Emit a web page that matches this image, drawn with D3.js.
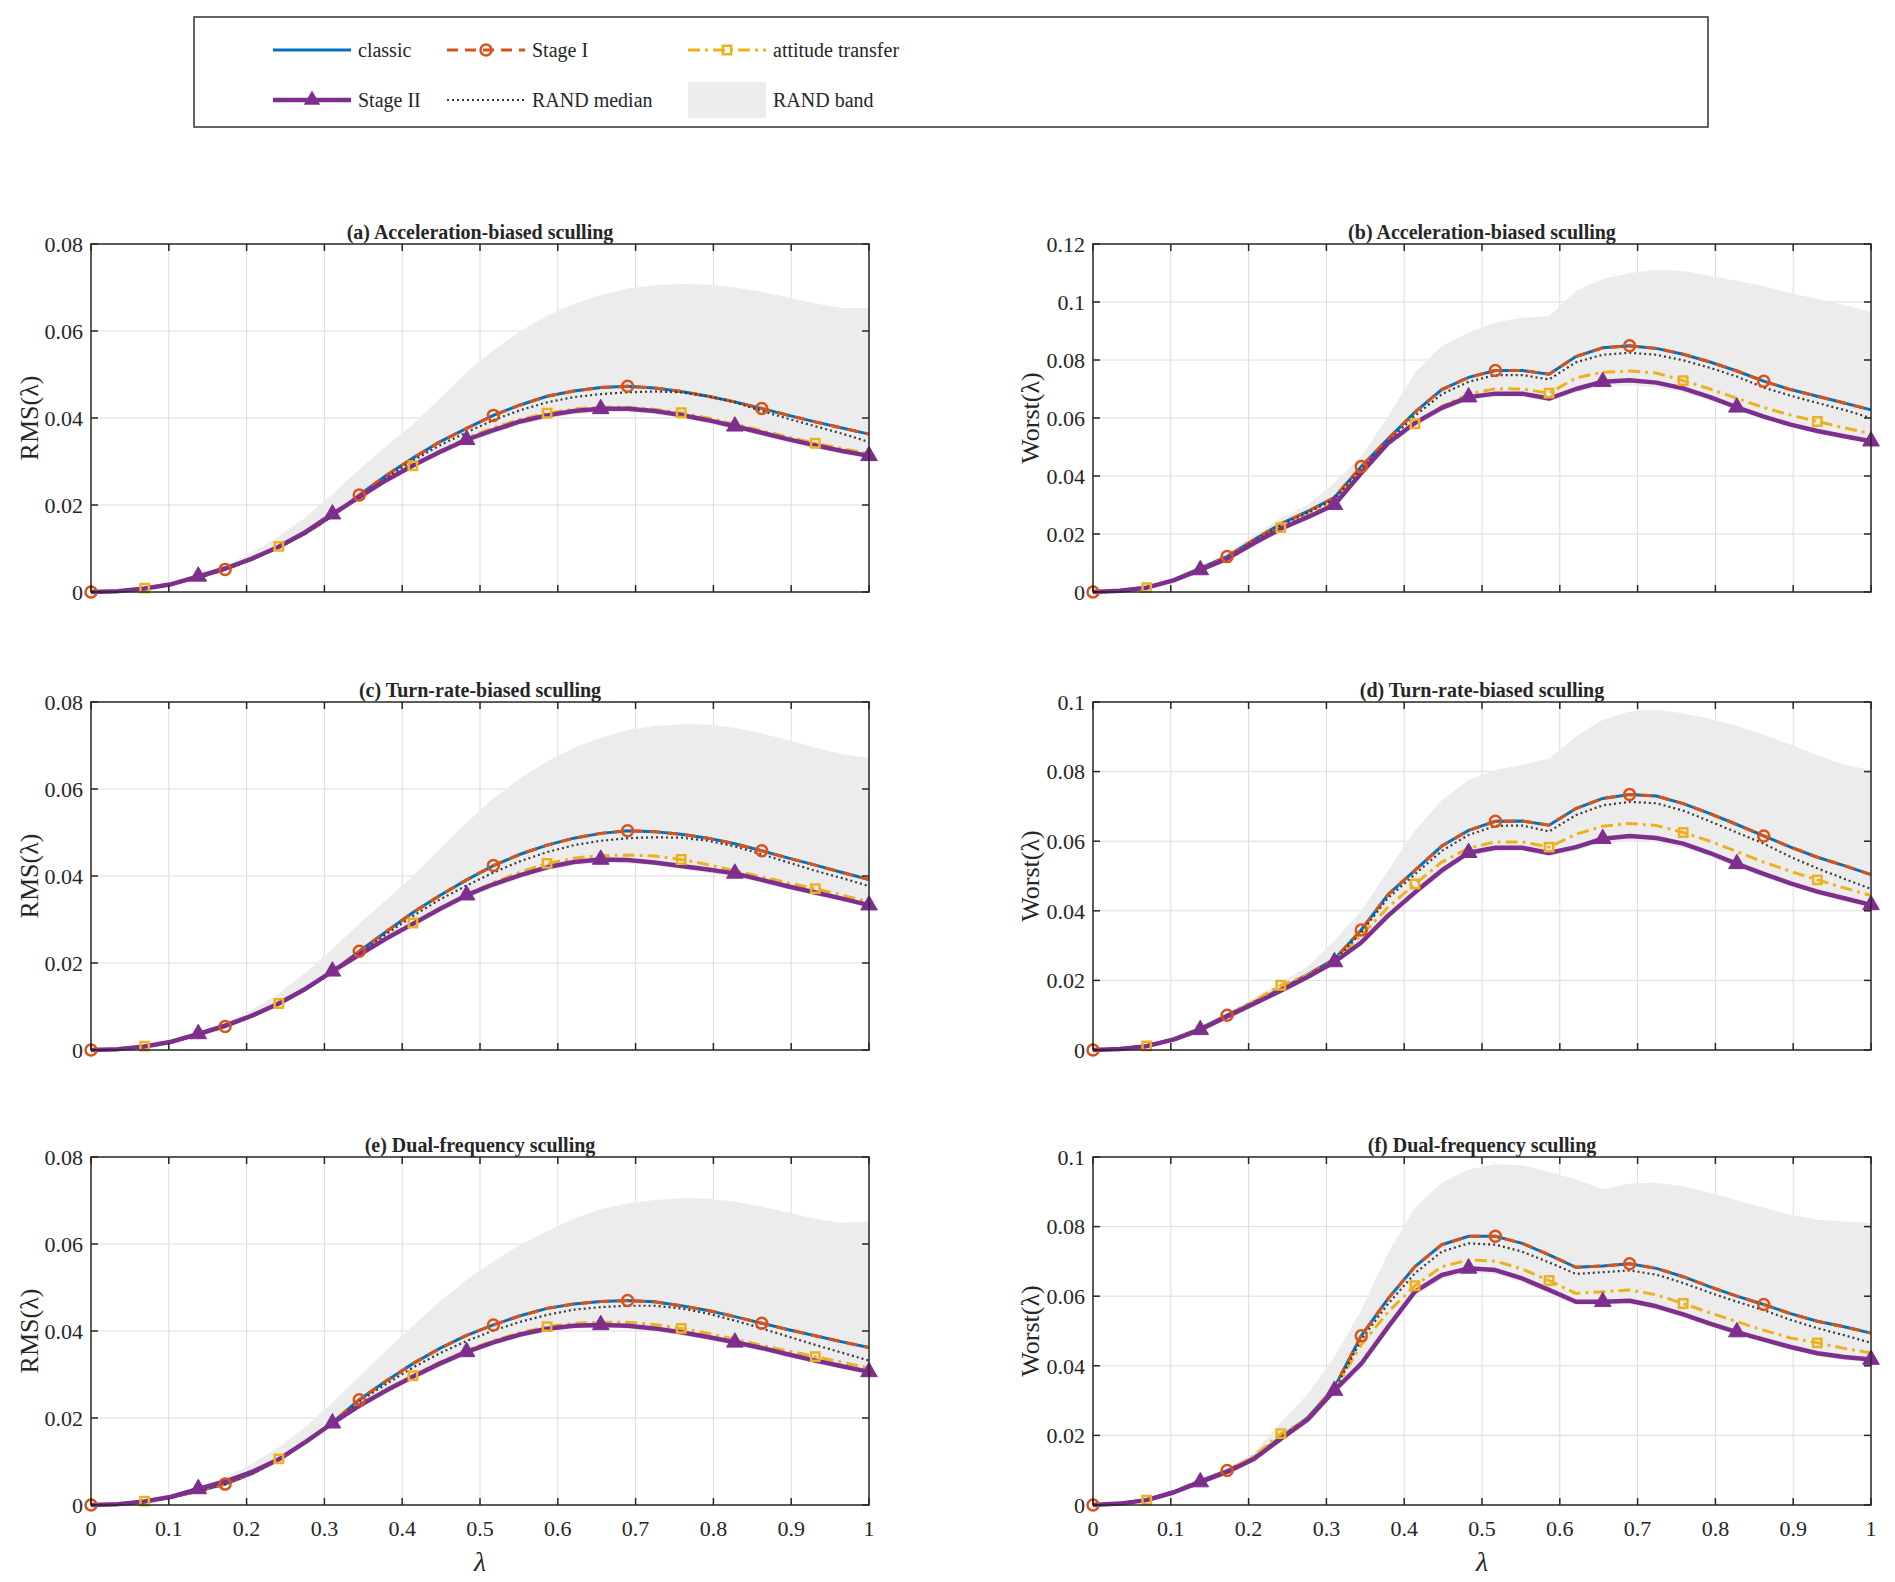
<!DOCTYPE html>
<html>
<head>
<meta charset="utf-8">
<script src="https://cdn.jsdelivr.net/npm/d3@7"></script>
<style>
  body { margin: 0; background: #fff; }
  svg text { font-family: "Liberation Serif", "Times New Roman", serif; fill: #262626; }
</style>
</head>
<body>
<svg id="chart" width="1895" height="1582"></svg>
<script>
// lambda grid (30 samples, 0..1)
const lambda = [0, 0.0345, 0.0690, 0.1034, 0.1379, 0.1724, 0.2069, 0.2414, 0.2759, 0.3103,
  0.3448, 0.3793, 0.4138, 0.4483, 0.4828, 0.5172, 0.5517, 0.5862, 0.6207, 0.6552,
  0.6897, 0.7241, 0.7586, 0.7931, 0.8276, 0.8621, 0.8966, 0.9310, 0.9655, 1];

const xTicks = [0, 0.1, 0.2, 0.3, 0.4, 0.5, 0.6, 0.7, 0.8, 0.9, 1];
const rmsTicks = [0, 0.02, 0.04, 0.06, 0.08];
const worstTicksB = [0, 0.02, 0.04, 0.06, 0.08, 0.1, 0.12];
const worstTicks = [0, 0.02, 0.04, 0.06, 0.08, 0.1];

const legendNames = ['classic', 'Stage I', 'attitude transfer', 'Stage II', 'RAND median', 'RAND band'];

// marker positions (indices into lambda)
const stage1Marks = [0, 5, 10, 15, 20, 25];
const attitudeMarks = [2, 7, 12, 17, 22, 27];
const stage2Marks = [4, 9, 14, 19, 24, 29];

// (a) acceleration-biased, RMS
const aClassic = [0,0.0002,0.0008,0.0018,0.0033,0.0052,0.0075,0.0103,0.0135,0.0175,0.0223,0.0268,0.0308,0.0345,0.0376,0.0406,0.0430,0.0450,0.0462,0.0470,0.0473,0.0469,0.0461,0.0450,0.0437,0.0422,0.0406,0.0391,0.0377,0.0363];
const aStage1 = [0,0.0002,0.0008,0.0018,0.0033,0.0052,0.0075,0.0103,0.0135,0.0175,0.0223,0.0268,0.0308,0.0345,0.0376,0.0406,0.0430,0.0450,0.0462,0.0470,0.0473,0.0469,0.0461,0.0450,0.0437,0.0422,0.0406,0.0391,0.0377,0.0363];
const aAttitude = [0,0.0002,0.0009,0.0019,0.0035,0.0053,0.0076,0.0105,0.0138,0.0178,0.0218,0.0256,0.0290,0.0324,0.0354,0.0378,0.0397,0.0411,0.0421,0.0425,0.0425,0.0420,0.0412,0.0400,0.0386,0.0371,0.0356,0.0342,0.0330,0.0318];
const aStage2 = [0,0.0002,0.0008,0.0018,0.0036,0.0054,0.0077,0.0104,0.0138,0.0179,0.0218,0.0257,0.0291,0.0322,0.0350,0.0372,0.0392,0.0406,0.0416,0.0421,0.0421,0.0416,0.0407,0.0395,0.0381,0.0366,0.0351,0.0337,0.0324,0.0313];
const aMedian = [0,0.0002,0.0008,0.0018,0.0033,0.0052,0.0075,0.0103,0.0135,0.0174,0.0219,0.0262,0.0302,0.0337,0.0367,0.0395,0.0418,0.0436,0.0448,0.0455,0.0459,0.0461,0.0459,0.0450,0.0436,0.0416,0.0398,0.0381,0.0364,0.0345];
const aBandHi = [0,0.0002,0.0009,0.0020,0.0038,0.0060,0.0090,0.0128,0.0172,0.0225,0.0282,0.0335,0.0385,0.0445,0.0505,0.0555,0.0600,0.0635,0.0662,0.0683,0.0697,0.0705,0.0708,0.0707,0.0700,0.0690,0.0677,0.0663,0.0653,0.0653];
const aBandLo = [0,0.0002,0.0007,0.0017,0.0033,0.0051,0.0073,0.0100,0.0133,0.0172,0.0212,0.0250,0.0284,0.0315,0.0342,0.0364,0.0384,0.0398,0.0408,0.0413,0.0413,0.0409,0.0400,0.0388,0.0374,0.0359,0.0344,0.0330,0.0318,0.0308];

// (b) acceleration-biased, worst
const bClassic = [0,0.0004,0.0016,0.0042,0.0082,0.0122,0.0180,0.0235,0.0278,0.0326,0.0433,0.0528,0.0620,0.0698,0.0740,0.0764,0.0764,0.0751,0.0812,0.0842,0.0849,0.0840,0.0820,0.0793,0.0762,0.0727,0.0698,0.0675,0.0652,0.0628];
const bStage1 = [0,0.0004,0.0016,0.0042,0.0082,0.0122,0.0180,0.0235,0.0278,0.0326,0.0433,0.0528,0.0620,0.0698,0.0740,0.0764,0.0764,0.0751,0.0812,0.0842,0.0849,0.0840,0.0820,0.0793,0.0762,0.0727,0.0698,0.0675,0.0652,0.0628];
const bAttitude = [0,0.0004,0.0015,0.0040,0.0078,0.0118,0.0172,0.0222,0.0265,0.0310,0.0420,0.0508,0.0580,0.0640,0.0682,0.0701,0.0700,0.0686,0.0738,0.0758,0.0762,0.0755,0.0729,0.0700,0.0668,0.0636,0.0610,0.0588,0.0566,0.0546];
const bStage2 = [0,0.0004,0.0015,0.0040,0.0076,0.0115,0.0168,0.0218,0.0258,0.0301,0.0410,0.0514,0.0583,0.0635,0.0672,0.0684,0.0684,0.0667,0.0700,0.0725,0.0730,0.0722,0.0702,0.0672,0.0637,0.0605,0.0577,0.0555,0.0537,0.0520];
const bMedian = [0,0.0004,0.0016,0.0042,0.0080,0.0120,0.0176,0.0230,0.0273,0.0320,0.0425,0.0518,0.0608,0.0682,0.0725,0.0748,0.0748,0.0733,0.0792,0.0818,0.0825,0.0818,0.0799,0.0773,0.0743,0.0705,0.0677,0.0652,0.0628,0.0600];
const bBandHi = [0,0.0004,0.0017,0.0045,0.0088,0.0135,0.0195,0.0255,0.0300,0.0376,0.0468,0.0606,0.0756,0.0848,0.0895,0.0929,0.0946,0.0952,0.1039,0.1079,0.1100,0.1110,0.1107,0.1090,0.1073,0.1054,0.1031,0.1010,0.0990,0.0966];
const bBandLo = [0,0.0003,0.0014,0.0038,0.0074,0.0112,0.0164,0.0213,0.0252,0.0295,0.0400,0.0500,0.0570,0.0622,0.0660,0.0672,0.0673,0.0657,0.0690,0.0708,0.0712,0.0705,0.0688,0.0660,0.0628,0.0598,0.0570,0.0548,0.0530,0.0513];

// (c) turn-rate-biased, RMS
const cClassic = [0,0.0002,0.0008,0.0019,0.0035,0.0054,0.0078,0.0106,0.0140,0.0180,0.0227,0.0272,0.0316,0.0355,0.0391,0.0424,0.0450,0.0471,0.0487,0.0498,0.0504,0.0502,0.0496,0.0487,0.0474,0.0458,0.0441,0.0425,0.0408,0.0392];
const cStage1 = [0,0.0002,0.0008,0.0019,0.0035,0.0054,0.0078,0.0106,0.0140,0.0180,0.0227,0.0272,0.0316,0.0355,0.0391,0.0424,0.0450,0.0471,0.0487,0.0498,0.0504,0.0502,0.0496,0.0487,0.0474,0.0458,0.0441,0.0425,0.0408,0.0392];
const cAttitude = [0,0.0002,0.0009,0.0020,0.0036,0.0055,0.0078,0.0107,0.0141,0.0180,0.0220,0.0258,0.0292,0.0326,0.0357,0.0385,0.0409,0.0429,0.0441,0.0447,0.0448,0.0446,0.0438,0.0426,0.0412,0.0398,0.0384,0.0371,0.0356,0.0340];
const cStage2 = [0,0.0002,0.0008,0.0019,0.0037,0.0056,0.0079,0.0107,0.0141,0.0181,0.0219,0.0256,0.0290,0.0324,0.0356,0.0381,0.0402,0.0420,0.0432,0.0438,0.0437,0.0431,0.0423,0.0415,0.0406,0.0391,0.0376,0.0362,0.0348,0.0333];
const cMedian = [0,0.0002,0.0008,0.0019,0.0035,0.0054,0.0078,0.0106,0.0139,0.0178,0.0222,0.0266,0.0308,0.0346,0.0378,0.0408,0.0434,0.0455,0.0471,0.0481,0.0487,0.0489,0.0488,0.0481,0.0468,0.0450,0.0431,0.0412,0.0395,0.0377];
const cBandHi = [0,0.0002,0.0009,0.0021,0.0039,0.0062,0.0092,0.0130,0.0178,0.0232,0.0290,0.0345,0.0400,0.0462,0.0523,0.0578,0.0625,0.0663,0.0695,0.0718,0.0735,0.0745,0.0749,0.0748,0.0740,0.0728,0.0712,0.0695,0.0680,0.0672];
const cBandLo = [0,0.0002,0.0007,0.0018,0.0034,0.0053,0.0076,0.0103,0.0137,0.0176,0.0213,0.0249,0.0283,0.0316,0.0348,0.0373,0.0394,0.0412,0.0424,0.0430,0.0429,0.0424,0.0416,0.0407,0.0398,0.0384,0.0369,0.0355,0.0342,0.0328];

// (d) turn-rate-biased, worst
const dClassic = [0,0.0003,0.0012,0.0032,0.0062,0.0100,0.0138,0.0175,0.0217,0.0261,0.0345,0.0447,0.0516,0.0586,0.0631,0.0657,0.0658,0.0646,0.0694,0.0723,0.0734,0.0730,0.0708,0.0679,0.0648,0.0615,0.0583,0.0554,0.0530,0.0504];
const dStage1 = [0,0.0003,0.0012,0.0032,0.0062,0.0100,0.0138,0.0175,0.0217,0.0261,0.0345,0.0447,0.0516,0.0586,0.0631,0.0657,0.0658,0.0646,0.0694,0.0723,0.0734,0.0730,0.0708,0.0679,0.0648,0.0615,0.0583,0.0554,0.0530,0.0504];
const dAttitude = [0,0.0003,0.0012,0.0031,0.0060,0.0097,0.0140,0.0186,0.0215,0.0255,0.0330,0.0410,0.0477,0.0540,0.0580,0.0598,0.0598,0.0583,0.0620,0.0643,0.0651,0.0645,0.0625,0.0600,0.0570,0.0540,0.0513,0.0489,0.0466,0.0444];
const dStage2 = [0,0.0003,0.0011,0.0030,0.0058,0.0096,0.0133,0.0170,0.0210,0.0253,0.0309,0.0386,0.0453,0.0516,0.0567,0.0581,0.0581,0.0566,0.0583,0.0607,0.0615,0.0609,0.0593,0.0566,0.0535,0.0506,0.0479,0.0455,0.0436,0.0417];
const dMedian = [0,0.0003,0.0012,0.0031,0.0060,0.0098,0.0135,0.0172,0.0213,0.0256,0.0338,0.0437,0.0505,0.0572,0.0618,0.0644,0.0645,0.0628,0.0675,0.0703,0.0713,0.0709,0.0688,0.0657,0.0625,0.0593,0.0555,0.0522,0.0492,0.0463];
const dBandHi = [0,0.0003,0.0013,0.0035,0.0068,0.0108,0.0150,0.0195,0.0240,0.0314,0.0400,0.0516,0.0631,0.0718,0.0776,0.0805,0.0819,0.0838,0.0901,0.0949,0.0973,0.0978,0.0968,0.0951,0.0932,0.0906,0.0877,0.0848,0.0819,0.0805];
const dBandLo = [0,0.0002,0.0010,0.0028,0.0055,0.0092,0.0128,0.0165,0.0205,0.0247,0.0300,0.0376,0.0442,0.0505,0.0555,0.0570,0.0571,0.0556,0.0572,0.0596,0.0603,0.0597,0.0581,0.0555,0.0525,0.0497,0.0470,0.0447,0.0428,0.0409];

// (e) dual-frequency, RMS
const eClassic = [0,0.0002,0.0008,0.0018,0.0032,0.0048,0.0072,0.0104,0.0145,0.0190,0.0242,0.0285,0.0325,0.0360,0.0390,0.0414,0.0435,0.0452,0.0462,0.0468,0.0470,0.0467,0.0458,0.0447,0.0433,0.0418,0.0403,0.0389,0.0375,0.0362];
const eStage1 = [0,0.0002,0.0008,0.0018,0.0032,0.0048,0.0072,0.0104,0.0145,0.0190,0.0242,0.0285,0.0325,0.0360,0.0390,0.0414,0.0435,0.0452,0.0462,0.0468,0.0470,0.0467,0.0458,0.0447,0.0433,0.0418,0.0403,0.0389,0.0375,0.0362];
const eAttitude = [0,0.0002,0.0009,0.0019,0.0034,0.0051,0.0075,0.0106,0.0145,0.0188,0.0230,0.0266,0.0297,0.0328,0.0355,0.0378,0.0396,0.0410,0.0418,0.0420,0.0420,0.0415,0.0406,0.0395,0.0381,0.0367,0.0354,0.0341,0.0328,0.0315];
const eStage2 = [0,0.0002,0.0008,0.0019,0.0037,0.0054,0.0076,0.0105,0.0145,0.0188,0.0228,0.0263,0.0295,0.0325,0.0352,0.0374,0.0392,0.0405,0.0412,0.0414,0.0412,0.0406,0.0397,0.0386,0.0374,0.0361,0.0346,0.0332,0.0319,0.0306];
const eMedian = [0,0.0002,0.0008,0.0018,0.0032,0.0048,0.0072,0.0103,0.0143,0.0187,0.0238,0.0278,0.0316,0.0349,0.0377,0.0401,0.0421,0.0437,0.0449,0.0455,0.0458,0.0458,0.0452,0.0440,0.0424,0.0406,0.0387,0.0368,0.0350,0.0332];
const eBandHi = [0,0.0002,0.0009,0.0021,0.0040,0.0064,0.0094,0.0133,0.0180,0.0235,0.0295,0.0355,0.0412,0.0468,0.0518,0.0560,0.0598,0.0630,0.0658,0.0680,0.0693,0.0701,0.0705,0.0704,0.0697,0.0686,0.0672,0.0658,0.0648,0.0652];
const eBandLo = [0,0.0002,0.0007,0.0017,0.0032,0.0048,0.0071,0.0101,0.0140,0.0183,0.0222,0.0257,0.0289,0.0318,0.0345,0.0367,0.0385,0.0398,0.0405,0.0407,0.0405,0.0399,0.0390,0.0379,0.0367,0.0354,0.0340,0.0326,0.0313,0.0300];

// (f) dual-frequency, worst
const fClassic = [0,0.0004,0.0015,0.0038,0.0070,0.0099,0.0136,0.0195,0.0251,0.0338,0.0486,0.0593,0.0685,0.0748,0.0772,0.0772,0.0752,0.0719,0.0683,0.0687,0.0693,0.0680,0.0656,0.0627,0.0600,0.0576,0.0550,0.0528,0.0512,0.0494];
const fStage1 = [0,0.0004,0.0015,0.0038,0.0070,0.0099,0.0136,0.0195,0.0251,0.0338,0.0486,0.0593,0.0685,0.0748,0.0772,0.0772,0.0752,0.0719,0.0683,0.0687,0.0693,0.0680,0.0656,0.0627,0.0600,0.0576,0.0550,0.0528,0.0512,0.0494];
const fAttitude = [0,0.0004,0.0014,0.0036,0.0068,0.0097,0.0140,0.0205,0.0245,0.0330,0.0460,0.0555,0.0630,0.0685,0.0704,0.0701,0.0678,0.0645,0.0608,0.0613,0.0618,0.0604,0.0579,0.0552,0.0527,0.0502,0.0480,0.0466,0.0450,0.0437];
const fStage2 = [0,0.0004,0.0014,0.0036,0.0066,0.0095,0.0132,0.0190,0.0245,0.0329,0.0406,0.0512,0.0613,0.0661,0.0680,0.0675,0.0651,0.0618,0.0584,0.0584,0.0587,0.0571,0.0548,0.0521,0.0497,0.0475,0.0454,0.0436,0.0425,0.0418];
const fMedian = [0,0.0004,0.0015,0.0037,0.0068,0.0097,0.0133,0.0192,0.0246,0.0330,0.0475,0.0578,0.0666,0.0728,0.0752,0.0748,0.0728,0.0697,0.0664,0.0669,0.0674,0.0662,0.0638,0.0610,0.0584,0.0560,0.0532,0.0508,0.0488,0.0466];
const fBandHi = [0,0.0004,0.0016,0.0040,0.0074,0.0105,0.0150,0.0237,0.0319,0.0425,0.0560,0.0724,0.0854,0.0926,0.0964,0.0979,0.0976,0.0957,0.0936,0.0907,0.0924,0.0926,0.0916,0.0897,0.0876,0.0854,0.0834,0.0820,0.0815,0.0810];
const fBandLo = [0,0.0003,0.0013,0.0034,0.0063,0.0092,0.0128,0.0185,0.0238,0.0320,0.0396,0.0500,0.0600,0.0648,0.0668,0.0663,0.0640,0.0608,0.0575,0.0575,0.0578,0.0562,0.0540,0.0513,0.0489,0.0467,0.0446,0.0428,0.0417,0.0410];

const colors = {
  classic: '#0072BD', stage1: '#D95319', attitude: '#EDB120',
  stage2: '#7E2F8E', median: '#3a3a3a', band: '#ececec'
};

const panels = [
  { title: '(a) Acceleration-biased sculling', ylab: 'RMS(λ)', yMax: 0.08, ticks: rmsTicks, row: 0, col: 0,
    classic: aClassic, stage1: aStage1, attitude: aAttitude, stage2: aStage2, median: aMedian, hi: aBandHi, lo: aBandLo },
  { title: '(b) Acceleration-biased sculling', ylab: 'Worst(λ)', yMax: 0.12, ticks: worstTicksB, row: 0, col: 1,
    classic: bClassic, stage1: bStage1, attitude: bAttitude, stage2: bStage2, median: bMedian, hi: bBandHi, lo: bBandLo },
  { title: '(c) Turn-rate-biased sculling', ylab: 'RMS(λ)', yMax: 0.08, ticks: rmsTicks, row: 1, col: 0,
    classic: cClassic, stage1: cStage1, attitude: cAttitude, stage2: cStage2, median: cMedian, hi: cBandHi, lo: cBandLo },
  { title: '(d) Turn-rate-biased sculling', ylab: 'Worst(λ)', yMax: 0.1, ticks: worstTicks, row: 1, col: 1,
    classic: dClassic, stage1: dStage1, attitude: dAttitude, stage2: dStage2, median: dMedian, hi: dBandHi, lo: dBandLo },
  { title: '(e) Dual-frequency sculling', ylab: 'RMS(λ)', yMax: 0.08, ticks: rmsTicks, row: 2, col: 0,
    classic: eClassic, stage1: eStage1, attitude: eAttitude, stage2: eStage2, median: eMedian, hi: eBandHi, lo: eBandLo },
  { title: '(f) Dual-frequency sculling', ylab: 'Worst(λ)', yMax: 0.1, ticks: worstTicks, row: 2, col: 1,
    classic: fClassic, stage1: fStage1, attitude: fAttitude, stage2: fStage2, median: fMedian, hi: fBandHi, lo: fBandLo }
];

const svg = d3.select('#chart');
const colX = [91, 1093];
const rowY = [244, 702, 1157];
const W = 778, H = 348;

const fmt = d => d === 0 ? '0' : String(+d.toFixed(2));

function markerPath(type) {
  if (type === 'circle') return d3.symbol().type(d3.symbolCircle).size(95)();
  if (type === 'square') return d3.symbol().type(d3.symbolSquare).size(70)();
  return d3.symbol().type(d3.symbolTriangle).size(120)();
}

panels.forEach(p => {
  const g = svg.append('g').attr('transform', `translate(${colX[p.col]},${rowY[p.row]})`);
  const x = d3.scaleLinear().domain([0, 1]).range([0, W]);
  const y = d3.scaleLinear().domain([0, p.yMax]).range([H, 0]);

  // grid
  g.append('g').selectAll('line.gx').data(xTicks.slice(1, -1)).join('line')
    .attr('x1', d => x(d)).attr('x2', d => x(d)).attr('y1', 0).attr('y2', H)
    .attr('stroke', '#dcdcdc').attr('stroke-width', 1);
  g.append('g').selectAll('line.gy').data(p.ticks.slice(1, -1)).join('line')
    .attr('y1', d => y(d)).attr('y2', d => y(d)).attr('x1', 0).attr('x2', W)
    .attr('stroke', '#dcdcdc').attr('stroke-width', 1);

  // band
  const idx = d3.range(lambda.length);
  g.append('path').datum(idx)
    .attr('d', d3.area().x(i => x(lambda[i])).y0(i => y(p.lo[i])).y1(i => y(p.hi[i])))
    .attr('fill', colors.band);

  const line = arr => d3.line().x(i => x(lambda[i])).y(i => y(arr[i]))(idx);

  g.append('path').attr('d', line(p.classic)).attr('fill', 'none')
    .attr('stroke', colors.classic).attr('stroke-width', 3);
  g.append('path').attr('d', line(p.stage1)).attr('fill', 'none')
    .attr('stroke', colors.stage1).attr('stroke-width', 3).attr('stroke-dasharray', '11,7');
  g.append('path').attr('d', line(p.attitude)).attr('fill', 'none')
    .attr('stroke', colors.attitude).attr('stroke-width', 3).attr('stroke-dasharray', '12,5,3,5');
  g.append('path').attr('d', line(p.median)).attr('fill', 'none')
    .attr('stroke', colors.median).attr('stroke-width', 2.2).attr('stroke-dasharray', '2,3');
  g.append('path').attr('d', line(p.stage2)).attr('fill', 'none')
    .attr('stroke', colors.stage2).attr('stroke-width', 4.5).attr('stroke-linejoin', 'round');

  // markers
  g.append('g').selectAll('path').data(stage1Marks).join('path')
    .attr('d', markerPath('circle'))
    .attr('transform', i => `translate(${x(lambda[i])},${y(p.stage1[i])})`)
    .attr('fill', 'none').attr('stroke', colors.stage1).attr('stroke-width', 2.5);
  g.append('g').selectAll('path').data(attitudeMarks).join('path')
    .attr('d', markerPath('square'))
    .attr('transform', i => `translate(${x(lambda[i])},${y(p.attitude[i])})`)
    .attr('fill', 'none').attr('stroke', colors.attitude).attr('stroke-width', 2.5);
  g.append('g').selectAll('path').data(stage2Marks).join('path')
    .attr('d', markerPath('triangle'))
    .attr('transform', i => `translate(${x(lambda[i])},${y(p.stage2[i])})`)
    .attr('fill', colors.stage2).attr('stroke', colors.stage2).attr('stroke-width', 1);

  // axes box with inward ticks on all four sides
  const tl = 7;
  const box = g.append('g').attr('stroke', '#262626').attr('stroke-width', 1.5);
  box.append('rect').attr('width', W).attr('height', H).attr('fill', 'none');
  box.selectAll('line.tb').data(xTicks).join('line')
    .attr('x1', d => x(d)).attr('x2', d => x(d)).attr('y1', H).attr('y2', H - tl);
  box.selectAll('line.tt').data(xTicks).join('line')
    .attr('x1', d => x(d)).attr('x2', d => x(d)).attr('y1', 0).attr('y2', tl);
  box.selectAll('line.tlft').data(p.ticks).join('line')
    .attr('y1', d => y(d)).attr('y2', d => y(d)).attr('x1', 0).attr('x2', tl);
  box.selectAll('line.trgt').data(p.ticks).join('line')
    .attr('y1', d => y(d)).attr('y2', d => y(d)).attr('x1', W).attr('x2', W - tl);

  // y tick labels
  g.append('g').selectAll('text').data(p.ticks).join('text')
    .attr('x', -8).attr('y', d => y(d)).attr('dy', '0.35em')
    .attr('text-anchor', 'end').attr('font-size', 22).text(fmt);

  // x tick labels on the bottom row
  if (p.row === 2) {
    g.append('g').selectAll('text').data(xTicks).join('text')
      .attr('x', d => x(d)).attr('y', H + 31)
      .attr('text-anchor', 'middle').attr('font-size', 22).text(fmt);
    g.append('text').attr('x', W / 2).attr('y', H + 66)
      .attr('text-anchor', 'middle').attr('font-size', 28).attr('font-style', 'italic').text('λ');
  }

  // title and y label
  g.append('text').attr('x', W / 2).attr('y', -5)
    .attr('text-anchor', 'middle').attr('font-size', 20).attr('font-weight', 'bold').text(p.title);
  g.append('text')
    .attr('transform', `translate(${-colX[p.col] + (p.col === 0 ? 29 : colX[1] - 63)},${H / 2}) rotate(-90)`)
    .attr('text-anchor', 'middle').attr('dy', '0.35em').attr('font-size', 26).text(p.ylab);
});

// legend
const leg = svg.append('g');
leg.append('rect').attr('x', 194).attr('y', 17).attr('width', 1514).attr('height', 110)
  .attr('fill', '#fff').attr('stroke', '#333').attr('stroke-width', 1.5);

const legItems = [
  { name: legendNames[0], x: 273, y: 50, kind: 'classic' },
  { name: legendNames[1], x: 447, y: 50, kind: 'stage1' },
  { name: legendNames[2], x: 688, y: 50, kind: 'attitude' },
  { name: legendNames[3], x: 273, y: 100, kind: 'stage2' },
  { name: legendNames[4], x: 447, y: 100, kind: 'median' },
  { name: legendNames[5], x: 688, y: 100, kind: 'band' }
];

legItems.forEach(it => {
  const lg = leg.append('g').attr('transform', `translate(${it.x},${it.y})`);
  const L = 78;
  if (it.kind === 'band') {
    lg.append('rect').attr('x', 0).attr('y', -18).attr('width', L).attr('height', 36).attr('fill', colors.band);
  } else if (it.kind === 'classic') {
    lg.append('line').attr('x2', L).attr('stroke', colors.classic).attr('stroke-width', 3);
  } else if (it.kind === 'stage1') {
    lg.append('line').attr('x2', L).attr('stroke', colors.stage1).attr('stroke-width', 3).attr('stroke-dasharray', '11,7');
    lg.append('path').attr('d', markerPath('circle')).attr('transform', `translate(${L / 2},0)`)
      .attr('fill', 'none').attr('stroke', colors.stage1).attr('stroke-width', 2.5);
  } else if (it.kind === 'attitude') {
    lg.append('line').attr('x2', L).attr('stroke', colors.attitude).attr('stroke-width', 3).attr('stroke-dasharray', '12,5,3,5');
    lg.append('path').attr('d', markerPath('square')).attr('transform', `translate(${L / 2},0)`)
      .attr('fill', 'none').attr('stroke', colors.attitude).attr('stroke-width', 2.5);
  } else if (it.kind === 'stage2') {
    lg.append('line').attr('x2', L).attr('stroke', colors.stage2).attr('stroke-width', 4.5);
    lg.append('path').attr('d', markerPath('triangle')).attr('transform', `translate(${L / 2},0)`)
      .attr('fill', colors.stage2);
  } else if (it.kind === 'median') {
    lg.append('line').attr('x2', L).attr('stroke', colors.median).attr('stroke-width', 2.2).attr('stroke-dasharray', '2,3');
  }
  lg.append('text').attr('x', L + 7).attr('y', 0).attr('dy', '0.35em').attr('font-size', 20).text(it.name);
});
</script>
</body>
</html>
